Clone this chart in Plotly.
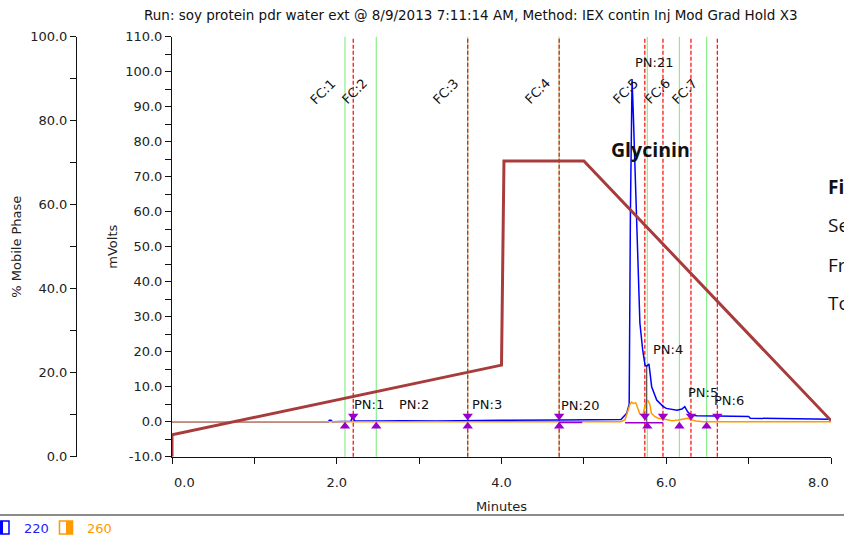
import plotly.graph_objects as go

W, H = 844, 535
PL, PR, PT, PB = 172, 831, 36.7, 456.7  # plot area in px


def fx(p):
    return p / W


def fy(p):
    return 1 - p / H


title_text = "Run: soy protein pdr water ext @ 8/9/2013 7:11:14 AM, Method: IEX contin Inj Mod Grad Hold X3"

# ---- data -------------------------------------------------------------
t220 = [0.0, 1.90, 1.91, 1.93, 1.95, 2.17, 2.19, 2.22, 2.5, 2.8, 3.2, 3.6, 4.0, 4.7, 5.0,
        5.45, 5.52, 5.55, 5.565, 5.585, 5.60, 5.636, 5.648, 5.673, 5.68, 5.714, 5.742, 5.76,
        5.79, 5.823, 5.884, 5.96, 6.00, 6.13, 6.19, 6.225, 6.26, 6.30, 6.37, 6.61, 7.0, 7.02,
        7.5, 7.8, 8.0]
mv220 = [0.0, 0.0, 0.4, 0.4, 0.0, 0.1, 1.3, 0.2, 0.2, 0.3, 0.2, 0.4, 0.4, 0.5, 0.6,
         0.6, 2.4, 5.0, 60.0, 97.9, 88.0, 61.0, 50.0, 35.0, 28.2, 20.5, 16.2, 15.8,
         16.5, 10.0, 6.2, 4.4, 3.8, 3.3, 3.6, 4.3, 2.8, 1.9, 1.7, 1.6, 1.5, 1.0,
         0.9, 0.7, 0.7]

t260 = [0.0, 5.45, 5.50, 5.53, 5.56, 5.58, 5.60, 5.63, 5.655, 5.68, 5.70, 5.72, 5.745, 5.775,
        5.80, 5.82, 5.86, 5.90, 6.0, 6.07, 6.15, 6.22, 6.26, 6.30, 6.36, 6.45, 8.0]
mv260 = [0.0, 0.0, 0.6, 3.0, 5.0, 5.6, 5.2, 5.4, 3.5, 2.2, 1.9, 2.2, 5.0, 6.2,
         5.0, 2.4, 1.5, 1.0, 0.6, 0.3, 0.5, 0.9, 1.0, 0.6, 0.2, 0.0, 0.0]

mp_time = [0.0, 0.0, 4.0, 4.03, 5.0, 8.0]
mp_pct = [0.0, 5.2, 21.8, 70.4, 70.4, 8.6]

fc_names = ["FC:1", "FC:2", "FC:3", "FC:4", "FC:5", "FC:6", "FC:7"]
fc_start = [2.10, 2.48, 3.59, 4.70, 5.77, 6.16, 6.49]
fc_end = [2.20, 3.59, 4.70, 5.74, 5.96, 6.30, 6.62]

pn_names = ["PN:1", "PN:2", "PN:3", "PN:20", "PN:21", "PN:4", "PN:5", "PN:6"]
pn_time = [2.19, 2.73, 3.62, 4.70, 5.60, 5.82, 6.24, 6.555]
pn_label_mv = [4.8, 4.8, 4.8, 4.5, 102.5, 20.5, 8.3, 6.2]

base_t = [4.70, 4.98, None, 5.50, 5.96]
base_mv = [-0.2, -0.2, None, -0.3, -0.3]

x_ticks = [0, 1, 2, 3, 4, 5, 6, 7, 8]
x_labels = ["", "", "2.0", "", "4.0", "", "6.0", "", ""]
mv_ticks = list(range(-10, 111, 5))
mv_labels = [f"{v:.1f}" if v % 10 == 0 else "" for v in mv_ticks]
pct_ticks = list(range(0, 101, 10))
pct_labels = [f"{v:.1f}" if v % 20 == 0 else "" for v in pct_ticks]

BLUE = "#0000FF"
ORANGE = "#FF9900"
PURPLE = "#9900CC"
GREEN = "#8AEE8A"
RED = "#FF0000"
MPCOL = "#A83C3C"

fig = go.Figure()

fig.add_trace(go.Scatter(x=t220, y=mv220, mode="lines", name="220",
                         line=dict(color=BLUE, width=1.5)))
fig.add_trace(go.Scatter(x=t260, y=mv260, mode="lines", name="260",
                         line=dict(color=ORANGE, width=1.5)))
fig.add_trace(go.Scatter(x=base_t, y=base_mv, mode="lines", name="baseline",
                         line=dict(color=PURPLE, width=1.5), connectgaps=False))
fig.add_trace(go.Scatter(x=[5.76, 5.76], y=[0, 15.7], mode="lines", name="drop",
                         line=dict(color="#555555", width=1)))
fig.add_trace(go.Scatter(x=fc_start, y=[-1.3] * len(fc_start), mode="markers", name="start",
                         marker=dict(symbol="triangle-up", size=9, color=PURPLE)))
fig.add_trace(go.Scatter(x=fc_end, y=[1.6] * len(fc_end), mode="markers", name="end",
                         marker=dict(symbol="triangle-down", size=9, color=PURPLE)))
fig.add_trace(go.Scatter(x=mp_time, y=mp_pct, yaxis="y2", mode="lines", name="% Mobile Phase",
                         line=dict(color=MPCOL, width=3)))

shapes = []
for t in fc_start:
    shapes.append(dict(type="line", xref="x", yref="y domain", x0=t, x1=t, y0=0, y1=1,
                       line=dict(color=GREEN, width=1.2), layer="below"))
for t in fc_end:
    shapes.append(dict(type="line", xref="x", yref="y domain", x0=t, x1=t, y0=0, y1=1,
                       line=dict(color=RED, width=1.2, dash="4px,2px"), layer="below"))

# legend strip at the bottom
shapes.append(dict(type="line", xref="paper", yref="paper", x0=0, x1=1, y0=fy(515), y1=fy(515),
                   line=dict(color="#666666", width=1.5)))
shapes.append(dict(type="rect", xref="paper", yref="paper", x0=fx(0.8), x1=fx(9), y0=fy(534),
                   y1=fy(521), line=dict(color=BLUE, width=1.5), fillcolor="white"))
shapes.append(dict(type="rect", xref="paper", yref="paper", x0=fx(0), x1=fx(3), y0=fy(534),
                   y1=fy(521), line=dict(width=0), fillcolor=BLUE))
shapes.append(dict(type="rect", xref="paper", yref="paper", x0=fx(59.5), x1=fx(72.5), y0=fy(534),
                   y1=fy(521), line=dict(color=ORANGE, width=1.5), fillcolor="white"))
shapes.append(dict(type="rect", xref="paper", yref="paper", x0=fx(66), x1=fx(72.5), y0=fy(534),
                   y1=fy(521), line=dict(width=0), fillcolor=ORANGE))

ann = []
FONT = "DejaVu Sans"
for name, t in zip(fc_names, fc_start):
    ann.append(dict(x=t, xref="x", y=fy(73), yref="paper", text=name, showarrow=False,
                    textangle=-45, xshift=-22, font=dict(family=FONT, size=13, color="#111")))
for name, t, yv in zip(pn_names, pn_time, pn_label_mv):
    ann.append(dict(x=t, xref="x", y=yv, yref="y", text=name, showarrow=False,
                    xanchor="left", yanchor="middle", xshift=0,
                    font=dict(family=FONT, size=13, color="#111")))
ann.append(dict(x=0, xref="x", y=fy(483), yref="paper", text="0.0", showarrow=False,
                xanchor="left", yanchor="middle", font=dict(family=FONT, size=13, color="#222")))
ann.append(dict(x=8, xref="x", y=fy(483), yref="paper", text="8.0", showarrow=False,
                xanchor="right", yanchor="middle", font=dict(family=FONT, size=13, color="#222")))
ann.append(dict(x=fx(470), xref="paper", y=fy(15), yref="paper", text=title_text, showarrow=False,
                xanchor="center", yanchor="middle", font=dict(family=FONT, size=13.5, color="#111")))
ann.append(dict(x=5.30, xref="x", y=fy(149), yref="paper", text="<b>Glycinin</b>", showarrow=False,
                xanchor="left", yanchor="middle", font=dict(family="Open Sans", size=19.5, color="#111")))
for txt, yy, bold in [("Fi", 187, True), ("Se", 225, False), ("Fr", 265, False), ("To", 303, False)]:
    ann.append(dict(x=fx(826), xref="paper", y=fy(yy), yref="paper",
                    text=f"<b>{txt}</b>" if bold else txt, showarrow=False,
                    xanchor="left", yanchor="middle", font=dict(family="Open Sans", size=19, color="#111")))
ann.append(dict(x=fx(22), xref="paper", y=fy(528), yref="paper", text="220", showarrow=False,
                xanchor="left", yanchor="middle", font=dict(family=FONT, size=13, color="#2222FF")))
ann.append(dict(x=fx(85), xref="paper", y=fy(528), yref="paper", text="260", showarrow=False,
                xanchor="left", yanchor="middle", font=dict(family=FONT, size=13, color=ORANGE)))

axis_common = dict(showline=True, linecolor="#111", linewidth=1, ticks="outside", ticklen=6,
                   tickcolor="#111", showgrid=False, zeroline=False,
                   tickfont=dict(family=FONT, size=13, color="#222"), automargin=False)

fig.update_layout(
    width=W, height=H, template="none",
    margin=dict(l=0, r=0, t=0, b=0),
    paper_bgcolor="white", plot_bgcolor="rgba(0,0,0,0)",
    showlegend=False,
    font=dict(family=FONT, size=13, color="#222"),
    xaxis=dict(domain=[fx(PL), fx(PR)], range=[0, 8], tickvals=x_ticks, ticktext=x_labels,
               anchor="y", ticklabelstandoff=8,
               title=dict(text="Minutes", standoff=12, font=dict(family=FONT, size=13, color="#222")),
               **axis_common),
    yaxis=dict(domain=[fy(PB), fy(PT)], range=[-10, 110], tickvals=mv_ticks, ticktext=mv_labels,
               anchor="x",
               title=dict(text="mVolts", standoff=4, font=dict(family=FONT, size=13, color="#222")),
               **axis_common),
    yaxis2=dict(overlaying="y", anchor="free", position=fx(76), side="left", range=[0, 100],
                tickvals=pct_ticks, ticktext=pct_labels,
                title=dict(text="% Mobile Phase", standoff=4, font=dict(family=FONT, size=13, color="#222")),
                **axis_common),
    shapes=shapes,
    annotations=ann,
)

fig.write_html("out.html")
